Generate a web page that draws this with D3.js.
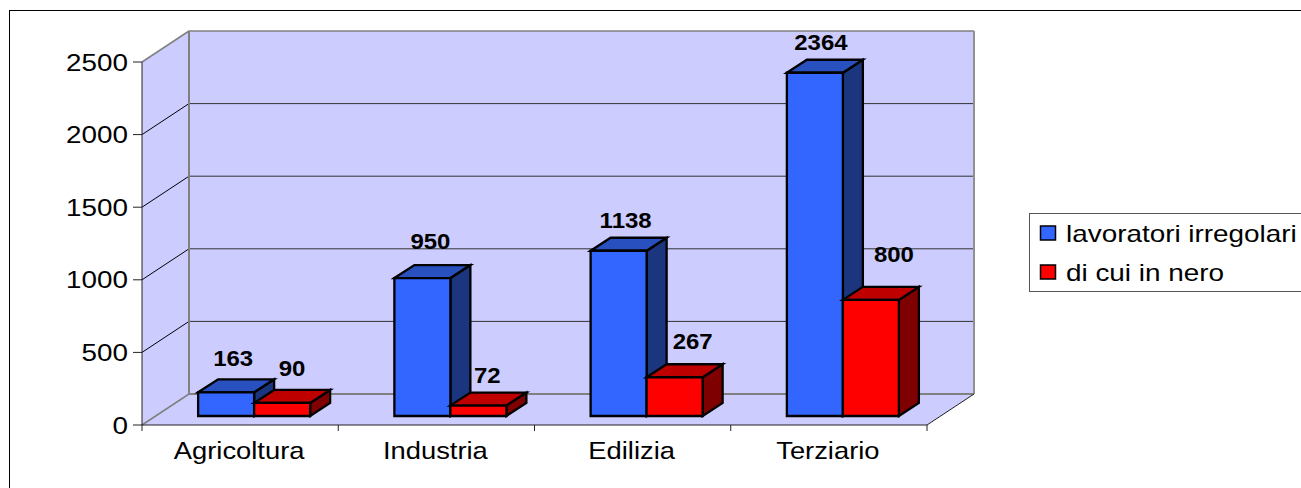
<!DOCTYPE html>
<html><head><meta charset="utf-8">
<script src="https://cdn.jsdelivr.net/npm/d3@7"></script>
<style>html,body{margin:0;padding:0;background:#fff;overflow:hidden}svg{display:block}text{font-family:"Liberation Sans",Arial,sans-serif;fill:#000}</style>
</head><body><svg id="c" width="1301" height="488"></svg>
<script>
const categories = ["Agricoltura","Industria","Edilizia","Terziario"];
const irregolari = [163,950,1138,2364];
const inNero = [90,72,267,800];
const seriesNames = ["lavoratori irregolari","di cui in nero"];
const yTicks = [0,500,1000,1500,2000,2500];

const svg = d3.select("#c");
const X0=142,X1=927,Y0=425,Y1=62,DX=47,DY=-31;
const y = d3.scaleLinear().domain([0,2500]).range([Y0,Y1]);
const x = d3.scaleBand().domain(categories).range([X0,X1]);
const line = d3.line();
const poly=(pts,fill,stroke,sw)=>svg.append("path").attr("d",line(pts)+"Z").attr("fill",fill).attr("stroke",stroke).attr("stroke-width",sw).attr("stroke-linejoin","miter");
const seg=(a,b,stroke,sw)=>svg.append("path").attr("d",line([a,b])).attr("fill","none").attr("stroke",stroke).attr("stroke-width",sw);
// stretched text, the original picture is wider than tall
const label=(s,px,py,size,sx,anchor,weight)=>svg.append("text").text(s)
  .attr("transform",`translate(${px},${py}) scale(${sx},1)`).attr("font-size",size)
  .attr("text-anchor",anchor).attr("font-weight",weight||"normal");

// frame
svg.append("rect").attr("x",9.5).attr("y",10.5).attr("width",1300).attr("height",490).attr("fill","#fff").attr("stroke","#000").attr("stroke-width",1);

// walls + floor
poly([[X0,Y0],[X0+DX,Y0+DY],[X0+DX,Y1+DY],[X0,Y1]],"#CCCCFF","none",0);
poly([[X0+DX,Y0+DY],[X1+DX,Y0+DY],[X1+DX,Y1+DY],[X0+DX,Y1+DY]],"#CCCCFF","none",0);
poly([[X0,Y0],[X1,Y0],[X1+DX,Y0+DY],[X0+DX,Y0+DY]],"#CCCCFF","none",0);
// gridlines
yTicks.slice(1,-1).forEach(t=>{
  seg([X0,y(t)],[X0+DX,y(t)+DY],"#000",1);
  seg([X0+DX,y(t)+DY],[X1+DX,y(t)+DY],"#333",1);
});
// grey wall edges
seg([X0,Y1],[X0+DX,Y1+DY],"#808080",1.5);
seg([X0+DX,Y1+DY],[X1+DX,Y1+DY],"#808080",1.5);
seg([X1+DX,Y1+DY],[X1+DX,Y0+DY],"#909090",2);
seg([X0+DX,Y1+DY],[X0+DX,Y0+DY],"#808080",2);
seg([X0+DX,Y0+DY],[X1+DX,Y0+DY],"#808080",2);
seg([X0,Y0],[X0+DX,Y0+DY],"#808080",1.5);
seg([X1,Y0],[X1+DX,Y0+DY],"#222",1);

// axes
seg([X0,Y1],[X0,Y0],"#222",1);
seg([X0,Y0],[X1,Y0],"#222",1);
yTicks.forEach(t=>{
  seg([X0-9,y(t)],[X0,y(t)],"#222",1);
  label(t,128,y(t)+8.5,24,1.16,"end");
});
d3.range(categories.length+1).forEach(i=>{
  const px=X0+x.bandwidth()*i;
  seg([px,Y0],[px,Y0+6],"#222",1);
});
categories.forEach(c=>label(c,x(c)+x.bandwidth()/2-1,459,24,1.14,"middle"));

// bars
const barW=56, barDX=20, barDY=-13, floorUp=9, floorX=14;
const series=[
 {values:irregolari,front:"#3366FF",top:"#2850BE",side:"#1B357F",off:0},
 {values:inNero,front:"#FF0000",top:"#BF0000",side:"#7F0000",off:1}
];
const labelShift=[[7,-34],[10,-34],[8,-37],[9,-30],[7,-30],[18,-36],[6,-30],[23,-45]];
const bar=(cx,v,s)=>{
  const l=cx+s.off*barW-barW+floorX, r=l+barW;
  const b=y(0)-floorUp, t=y(v)-floorUp;
  poly([[r,b],[r+barDX,b+barDY],[r+barDX,t+barDY],[r,t]],s.side,"#000",2.3);
  poly([[l,t],[l+barDX,t+barDY],[r+barDX,t+barDY],[r,t]],s.top,"#000",2.3);
  poly([[l,b],[r,b],[r,t],[l,t]],s.front,"#000",2.3);
};
categories.forEach((c,i)=>{
  const cx=x(c)+x.bandwidth()/2;
  series.forEach(s=>bar(cx,s.values[i],s));
});
categories.forEach((c,i)=>{
  const cx=x(c)+x.bandwidth()/2;
  series.forEach(s=>{
    const v=s.values[i], l=cx+s.off*barW-barW+floorX;
    const nudge=labelShift[i*2+s.off];
    label(v,l+barW/2+nudge[0],y(v)-floorUp+nudge[1]+7.5,22,1.09,"middle","bold");
  });
});

// legend
svg.append("rect").attr("x",1029.5).attr("y",213.5).attr("width",290).attr("height",78).attr("fill","#fff").attr("stroke","#555").attr("stroke-width",1);
[["#3366FF",226,seriesNames[0],242],["#FF0000",265,seriesNames[1],281]].forEach(d=>{
  svg.append("rect").attr("x",1040.5).attr("y",d[1]).attr("width",15).attr("height",14).attr("fill",d[0]).attr("stroke","#000").attr("stroke-width",1.5);
  label(d[2],1066,d[3],24,1.162,"start");
});
</script></body></html>
